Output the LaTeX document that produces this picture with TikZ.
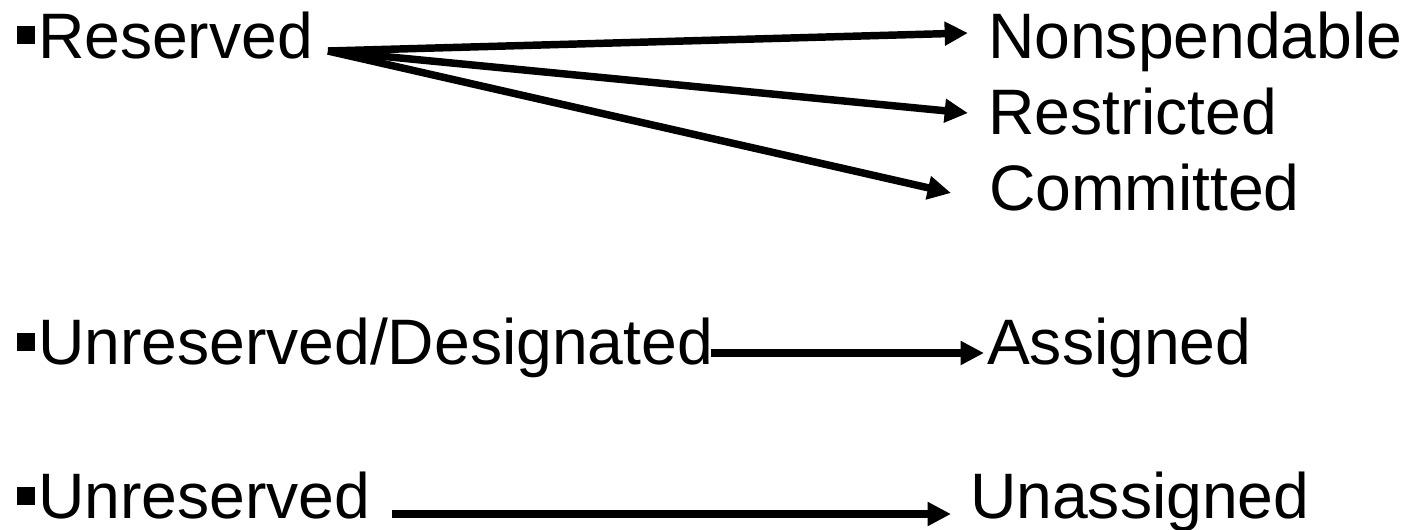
\documentclass[tikz,border=0pt]{standalone}
\usepackage{fontspec}
\setmainfont{Liberation Sans}
\usetikzlibrary{arrows.meta}
\begin{document}
\begin{tikzpicture}[x=0.75pt,y=-0.75pt,
  lbl/.style={anchor=base west,inner sep=0pt,outer sep=0pt,font=\fontsize{48.2}{58}\selectfont},
  bul/.style={fill=black,inner sep=0pt,minimum width=13.5pt,minimum height=13pt},
  arr/.style={line width=5.6pt,-{Triangle[length=17.5pt,width=17pt]}}]
\useasboundingbox (0,0) rectangle (1410,529);
% left column
\node[bul] (b1) at (25.5,35) {};
\node[lbl] (res) at (38,58) {Reserved};
\node[bul] (b2) at (25.5,342) {};
\node[lbl] (urd) at (38,364) {Unreserved/Designated};
\node[bul] (b3) at (25.5,496) {};
\node[lbl] (unr) at (38,518) {Unreserved};
% right column
\node[lbl] (nsp) at (988,58) {Nonspendable};
\node[lbl] (rst) at (988,134) {Restricted};
\node[lbl] (cmt) at (989,210) {Committed};
\node[lbl] (asg) at (987,364) {Assigned};
\node[lbl] (uas) at (970,518) {Unassigned};
% connector points
\coordinate (fan) at (328,51);
\coordinate (tnsp) at (968,33);
\coordinate (trst) at (968,113);
\coordinate (tcmt) at (951,193);
\coordinate (surd) at (711,353);
\coordinate (tasg) at (984,353);
\coordinate (sunr) at (392,514);
\coordinate (tuas) at (951,514);
\draw[arr] (fan) -- (tnsp);
\draw[arr] (fan) -- (trst);
\draw[arr] (fan) -- (tcmt);
\draw[arr] (surd) -- (tasg);
\draw[arr] (sunr) -- (tuas);
\end{tikzpicture}
\end{document}
